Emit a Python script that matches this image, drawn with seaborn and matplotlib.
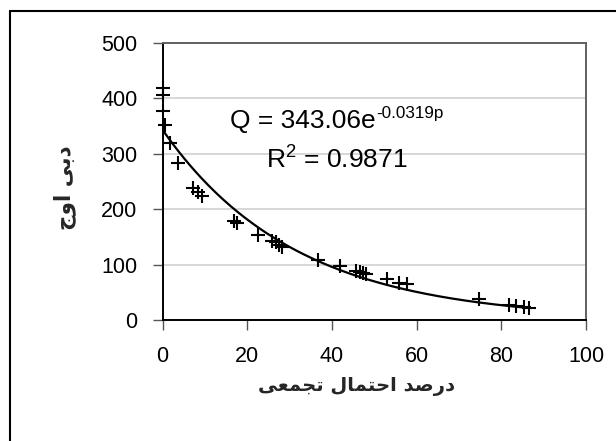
import numpy as np
import pandas as pd
import matplotlib
matplotlib.use("Agg")
import matplotlib.pyplot as plt
import seaborn as sns
from matplotlib.lines import Line2D

# ---- data ----
prob = [0.0, 0.0, 0.1, 0.7, 1.7, 3.7, 7.3, 8.5, 9.3, 16.9, 17.6, 22.5, 25.8, 26.8, 27.5,
        28.3, 36.7, 41.9, 45.8, 46.6, 47.3, 48.1, 52.9, 55.9, 57.7, 74.8, 81.8, 83.5, 85.3, 86.5]
discharge = [419, 405, 377, 352, 320, 283, 238, 231, 223, 179, 175, 154, 143, 140, 135,
             132, 109, 97, 88, 86, 85, 83, 74, 67, 65, 37, 27, 25, 23, 21]
fit_a = 343.06
fit_b = -0.0319
eq_main = "Q = 343.06e"
eq_sup = "-0.0319p"
r2_text = "0.9871"
x_ticks = [0, 20, 40, 60, 80, 100]
y_ticks = [0, 100, 200, 300, 400, 500]

# Persian labels (presentation forms, visual order)
ylabel = "\uFE9D\uFEED\uFE8D \uFEF0\uFE91\uFEA9"            # دبی اوج
xlabel = ("\uFEF0\uFECC\uFEE4\uFEA0\uFE97 "
          "\uFEDD\uFE8E\uFEE4\uFE98\uFEA3\uFE8D "
          "\uFEAA\uFEBB\uFEAD\uFEA9")                        # درصد احتمال تجمعی

sns.set_theme(style="white")
plt.rcParams['font.family'] = ['Liberation Sans', 'DejaVu Sans']
plt.rcParams['mathtext.default'] = 'regular'

W, H = 616, 441
fig = plt.figure(figsize=(W / 100, H / 100), dpi=100)
ax = fig.add_axes([162.5 / W, 1 - 320 / H, 423.5 / W, 277.3 / H])

df = pd.DataFrame({"p": prob, "Q": discharge})
pp = np.linspace(min(prob), max(prob), 200)
fit_df = pd.DataFrame({"p": pp, "Q": fit_a * np.exp(fit_b * pp)})

sns.lineplot(data=fit_df, x="p", y="Q", color="black", linewidth=1.6, ax=ax, zorder=3)
sns.scatterplot(data=df, x="p", y="Q", marker="+", s=100, color="black",
                linewidth=1.5, ax=ax, zorder=4, clip_on=False)

ax.set_xlim(0, 100)
ax.set_ylim(0, 500)
ax.set_xticks(x_ticks)
ax.set_yticks(y_ticks)
ax.tick_params(axis="both", labelsize=15.5, labelcolor="black", length=7, width=1,
               direction="out", color="#555555")
ax.tick_params(axis="x", pad=12)
ax.tick_params(axis="y", pad=11)
ax.xaxis.set_ticks_position("bottom")
ax.yaxis.set_ticks_position("left")
ax.yaxis.grid(True, color="#d4d4d4", linewidth=1.3)
ax.xaxis.grid(False)
ax.set_axisbelow(True)
for side in ["left", "bottom"]:
    ax.spines[side].set_color("black")
    ax.spines[side].set_linewidth(1.4)
for side in ["top", "right"]:
    ax.spines[side].set_color("#606060")
    ax.spines[side].set_linewidth(1.4)

ax.set_xlabel("")
ax.set_ylabel("")
fig.text(356 / W, 1 - 386 / H, xlabel, ha="center", va="center", fontsize=14,
         fontweight="bold", family=['DejaVu Sans'])
fig.text(65 / W, 1 - 188 / H, ylabel, ha="center", va="center", rotation=90,
         fontsize=15.5, fontweight="bold", family=['DejaVu Sans'])

t1 = ax.text((230 - 162.5) / 423.5, (320 - 128.3) / 277.3, eq_main,
             transform=ax.transAxes, ha="left", va="baseline", fontsize=19, color="black")
ax.annotate(eq_sup, xy=(1, 1), xycoords=t1, xytext=(0.5, 2.5), textcoords="offset points",
            ha="left", va="top", fontsize=12.3, color="black")
ax.text((336.7 - 162.5) / 423.5, (320 - 168.3) / 277.3, "R$^{2}$ = " + r2_text,
        transform=ax.transAxes, ha="center", va="baseline", fontsize=19, color="black")

# outer chart frame (cut at right and bottom edges)
fig.add_artist(Line2D([10 / W, 10 / W], [0, 1 - 11 / H], color="black", linewidth=1.5))
fig.add_artist(Line2D([10 / W, 1], [1 - 11 / H, 1 - 11 / H], color="black", linewidth=1.5))

fig.savefig("out.png", dpi=100)
